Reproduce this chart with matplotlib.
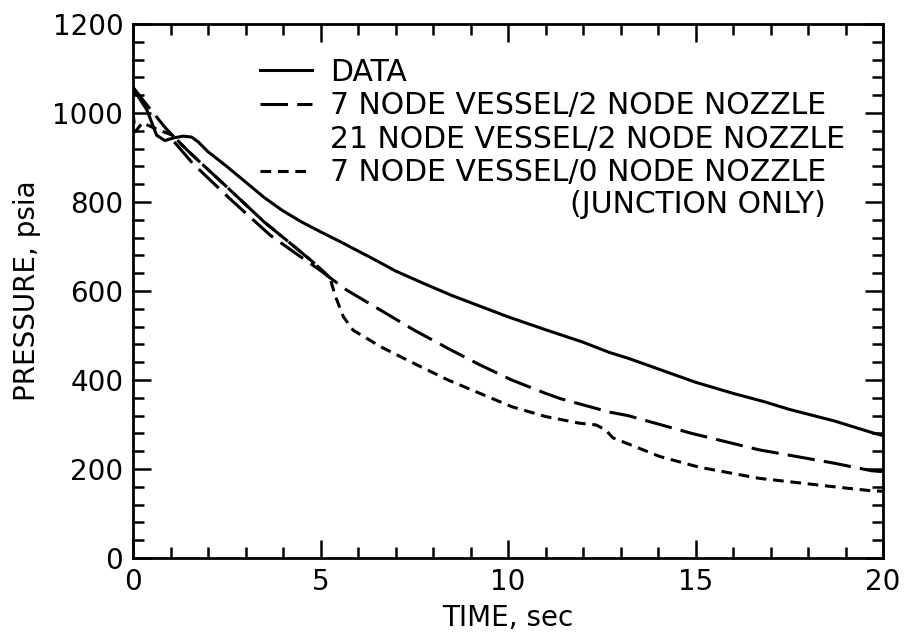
"""Blowdown pressure history: data vs. vessel/nozzle nodalizations"""

import matplotlib.pyplot as plt
from matplotlib.ticker import MultipleLocator

# values (time in sec, pressure in psia)
data_t = [0.0, 0.37, 0.63, 0.85, 1.08, 1.34, 1.56, 1.74, 2.0, 2.5, 3.0, 3.5, 4.0, 4.5,
          5.0, 5.5, 6.0, 6.5, 7.0, 7.75, 8.5, 9.25, 10.0, 11.0, 12.0, 12.7, 13.2, 14.0,
          15.0, 16.0, 16.8, 17.5, 18.7, 19.7, 20.0]
data_p = [1055, 1007, 950, 938, 944, 948, 946, 935, 913, 880, 845, 810, 780, 755,
          733, 712, 690, 668, 645, 617, 590, 566, 542, 513, 485, 462, 449, 425,
          395, 370, 352, 334, 308, 282, 275]

n7_t = [0.0, 0.4, 0.85, 1.05, 1.5, 2.5, 3.5, 4.3, 4.8, 5.25, 5.7, 6.6, 7.5, 8.4,
        9.25, 10.1, 11.0, 11.4, 12.7, 13.2, 14.9, 16.7, 18.7, 19.7, 20.0]
n7_p = [1058, 1015, 968, 950, 912, 834, 755, 700, 665, 630, 602, 557, 512, 471,
        434, 400, 370, 358, 328, 320, 280, 243, 213, 196, 194]

n21_t = [1.1, 1.6, 2.6, 3.65, 4.4, 5.0, 5.25]
n21_p = [935, 886, 806, 726, 681, 646, 630]

n0_t = [0.0, 0.06, 0.25, 0.6, 1.05, 1.5, 2.5, 3.5, 4.3, 4.8, 5.25, 5.39, 5.61, 5.87,
        6.6, 7.5, 8.4, 9.25, 10.1, 11.0, 11.9, 12.35, 12.6, 12.8, 14.05, 15.1, 16.7,
        18.7, 19.7, 20.0]
n0_p = [1000, 958, 978, 965, 950, 912, 834, 755, 700, 665, 630, 590, 542, 512,
        475, 437, 400, 370, 340, 318, 303, 299, 288, 270, 228, 204, 179,
        160, 151, 150]

labels = ['DATA', '7 NODE VESSEL/2 NODE NOZZLE', '21 NODE VESSEL/2 NODE NOZZLE',
          '7 NODE VESSEL/0 NODE NOZZLE']
note = '(JUNCTION ONLY)'

plt.rcParams['font.family'] = 'DejaVu Sans'

fig = plt.figure(figsize=(9.05, 6.38), dpi=100)
ax = fig.add_axes([133 / 905, 80 / 638, 750 / 905, 534 / 638])

lw = 2.2
ax.plot(data_t, data_p, color='black', lw=lw, label=labels[0])
ax.plot(n7_t, n7_p, color='black', lw=lw, dashes=(9, 3), label=labels[1])
ax.plot(n21_t, n21_p, color='black', lw=lw, dashes=(9, 3), label=labels[2])
ax.plot(n0_t, n0_p, color='black', lw=lw, dashes=(3.5, 2.2), label=labels[3])

ax.set_xlim(0, 20)
ax.set_ylim(0, 1200)
ax.xaxis.set_major_locator(MultipleLocator(5))
ax.xaxis.set_minor_locator(MultipleLocator(1))
ax.yaxis.set_major_locator(MultipleLocator(200))
ax.yaxis.set_minor_locator(MultipleLocator(40))
ax.tick_params(which='both', direction='in', top=True, right=True, width=1.8,
               labelsize=20, pad=7)
ax.tick_params(which='major', length=13)
ax.tick_params(which='minor', length=8)
for sp in ax.spines.values():
    sp.set_linewidth(2)

ax.set_xlabel('TIME, sec', fontsize=20, labelpad=6)
ax.set_ylabel('PRESSURE, psia', fontsize=20, labelpad=8)

fs = 21.5
leg = ax.legend(loc='upper left', bbox_to_anchor=(0.169, 0.937), frameon=False,
                fontsize=fs, handlelength=1.75, handletextpad=0.6, labelspacing=0.15,
                borderpad=0, borderaxespad=0)
leg.get_lines()[2].set_visible(False)  # no sample drawn for this one in the original

# second line of the last entry, right aligned under it
fig.canvas.draw()
bb = leg.get_texts()[3].get_window_extent(fig.canvas.get_renderer())
fig.text(bb.x1 / fig.bbox.width, (bb.y0 + bb.y1) / 2 / fig.bbox.height - 32 / 638,
         note, ha='right', va='center', fontsize=fs)

fig.savefig('out.png', dpi=100)
